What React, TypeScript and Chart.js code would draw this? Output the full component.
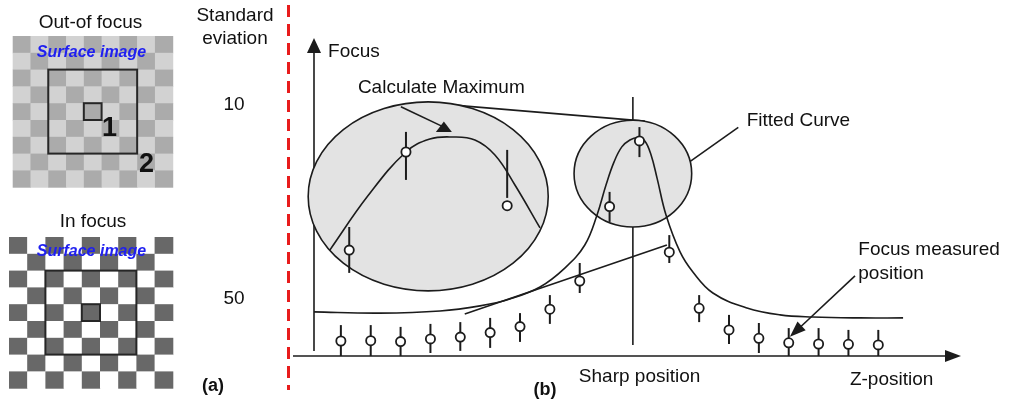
import { useEffect, useRef } from "react";
import { Chart, registerables } from "chart.js";

Chart.register(...registerables);

// Z-position index of every focus measurement
const zPositions = [0, 1, 2, 3, 4, 5, 6, 7, 8, 9, 10, 11, 12, 13, 14, 15, 16, 17, 18];
// measured focus value and its spread (upper / lower end of the bar)
const focusValues = [5.0, 5.1, 4.8, 5.7, 6.3, 7.8, 9.8, 15.6, 25.0, 49.8, 71.7, 34.6, 15.9, 8.7, 5.9, 4.4, 4.0, 3.9, 3.7];
const focusHigh = [10.3, 10.3, 9.7, 10.7, 11.3, 12.7, 14.3, 20.3, 31.0, 54.7, 76.3, 40.3, 20.3, 13.7, 11.0, 9.3, 9.3, 8.7, 8.7];
const focusLow = [0.0, 0.0, 0.0, 1.0, 1.7, 2.7, 4.7, 10.7, 21.0, 44.7, 66.3, 31.0, 11.3, 4.0, 1.0, 0.0, 0.0, 0.0, 0.0];

// fitted focus curve
const fitZ = [-0.94, 1.31, 3.32, 4.66, 5.66, 6.67, 7.5, 8.17, 8.58, 8.88, 9.15, 9.41, 9.68, 9.95, 10.18, 10.39, 10.59, 10.89, 11.36, 11.79, 12.46, 13.6, 14.71, 15.81, 17.39, 18.83];
const fitFocus = [14.7, 14.3, 15.0, 16.7, 19.0, 23.0, 29.3, 37.0, 47.0, 57.0, 64.7, 69.7, 72.0, 72.8, 71.7, 67.0, 59.3, 47.0, 34.7, 28.0, 21.0, 16.0, 13.7, 13.0, 12.7, 12.7];

// magnified view around the maximum
const zoomCurveZ = [-0.37, 0.9, 2.18, 2.98, 3.72, 4.49, 5.16, 5.83, 6.67];
const zoomCurveFocus = [35.3, 53.3, 68.0, 72.3, 73.0, 72.0, 67.0, 57.0, 42.7];
const zoomPointZ = [0.28, 2.18, 5.57];
const zoomPointFocus = [35.3, 68.0, 50.1];
const zoomPointHigh = [43.0, 74.7, 68.7];
const zoomPointLow = [27.7, 58.7, 52.7];

// standard deviation axis
const sdTicks = [10, 50];

const FONT = '"Liberation Sans", Arial, Helvetica, sans-serif';
const INK = "#1c1c1c";

function drawBoard(
  ctx: CanvasRenderingContext2D,
  x0: number,
  y0: number,
  cw: number,
  ch: number,
  dark: string,
  light: string
) {
  for (let r = 0; r < 9; r++) {
    for (let c = 0; c < 9; c++) {
      ctx.fillStyle = (r + c) % 2 === 0 ? dark : light;
      ctx.fillRect(x0 + c * cw, y0 + r * ch, cw + 0.5, ch + 0.5);
    }
  }
  ctx.strokeStyle = "#262626";
  ctx.lineWidth = 2;
  ctx.strokeRect(x0 + 2 * cw, y0 + 2 * ch, 5 * cw, 5 * ch);
  ctx.strokeRect(x0 + 4 * cw, y0 + 4 * ch, cw, ch);
}

const diagramPlugin = {
  id: "focusDiagram",
  beforeDatasetsDraw(chart: any) {
    const ctx: CanvasRenderingContext2D = chart.ctx;
    const xs = chart.scales.x;
    const ys = chart.scales.y;
    const px = (z: number) => xs.getPixelForValue(z);
    const py = (f: number) => ys.getPixelForValue(f);
    const area = chart.chartArea;

    ctx.save();
    ctx.strokeStyle = INK;
    ctx.fillStyle = INK;
    ctx.lineWidth = 1.6;

    // axes
    ctx.beginPath();
    ctx.moveTo(area.left - 21, area.bottom);
    ctx.lineTo(area.right - 14, area.bottom);
    ctx.moveTo(area.left, area.bottom - 5);
    ctx.lineTo(area.left, area.top + 14);
    ctx.stroke();
    ctx.beginPath();
    ctx.moveTo(area.right, area.bottom);
    ctx.lineTo(area.right - 16, area.bottom - 6);
    ctx.lineTo(area.right - 16, area.bottom + 6);
    ctx.closePath();
    ctx.fill();
    ctx.beginPath();
    ctx.moveTo(area.left, area.top);
    ctx.lineTo(area.left - 7, area.top + 15);
    ctx.lineTo(area.left + 7, area.top + 15);
    ctx.closePath();
    ctx.fill();

    const line = (z1: number, f1: number, z2: number, f2: number) => {
      ctx.beginPath();
      ctx.moveTo(px(z1), py(f1));
      ctx.lineTo(px(z2), py(f2));
      ctx.stroke();
    };

    // sharp position marker
    line(9.78, 86.3, 9.78, 3.7);
    // connection between the magnified view and the peak region
    line(2.98, 84.3, 10.18, 78.3);
    // tangent through the rising flank
    line(4.15, 14.0, 10.92, 37.0);
    // leader of "Fitted Curve"
    line(11.69, 64.8, 13.31, 76.2);

    // magnifier ellipses
    const ellipse = (cz: number, cf: number, rz: number, rf: number) => {
      const cx = px(cz);
      const cy = py(cf);
      const rx = px(cz + rz) - cx;
      const ry = cy - py(cf + rf);
      ctx.beginPath();
      ctx.ellipse(cx, cy, rx, ry, 0, 0, Math.PI * 2);
      ctx.fillStyle = "#e3e3e3";
      ctx.fill();
      ctx.stroke();
    };
    ellipse(2.925, 53.2, 4.02, 31.5);
    ellipse(9.78, 60.8, 1.97, 17.8);

    // spread bars
    ctx.lineWidth = 2;
    ctx.strokeStyle = INK;
    const bars = (zs: number[], lo: number[], hi: number[]) => {
      zs.forEach((z, i) => {
        ctx.beginPath();
        ctx.moveTo(px(z), py(lo[i]));
        ctx.lineTo(px(z), py(hi[i]));
        ctx.stroke();
      });
    };
    bars(zPositions, focusLow, focusHigh);
    bars(zoomPointZ, zoomPointLow, zoomPointHigh);
    ctx.restore();
  },
  afterDatasetsDraw(chart: any) {
    const ctx: CanvasRenderingContext2D = chart.ctx;
    const xs = chart.scales.x;
    const ys = chart.scales.y;
    const px = (z: number) => xs.getPixelForValue(z);
    const py = (f: number) => ys.getPixelForValue(f);

    ctx.save();
    ctx.strokeStyle = INK;
    ctx.fillStyle = INK;
    ctx.lineWidth = 1.6;

    // "Calculate Maximum" pointer
    const ax = px(3.45);
    const ay = py(76.3);
    ctx.beginPath();
    ctx.moveTo(px(2.01), py(83.1));
    ctx.lineTo(ax, ay);
    ctx.stroke();
    ctx.beginPath();
    ctx.moveTo(ax, ay - 5.5);
    ctx.lineTo(ax - 8, ay + 5);
    ctx.lineTo(ax + 8, ay + 5);
    ctx.closePath();
    ctx.fill();

    // "Focus measured position" pointer
    const sx = px(17.22);
    const sy = py(26.7);
    const tx = px(15.04);
    const ty = py(6.4);
    const ang = Math.atan2(ty - sy, tx - sx);
    ctx.beginPath();
    ctx.moveTo(sx, sy);
    ctx.lineTo(tx - Math.cos(ang) * 10, ty - Math.sin(ang) * 10);
    ctx.stroke();
    ctx.beginPath();
    ctx.moveTo(tx, ty);
    ctx.lineTo(tx - Math.cos(ang) * 16 + Math.sin(ang) * 6, ty - Math.sin(ang) * 16 - Math.cos(ang) * 6);
    ctx.lineTo(tx - Math.cos(ang) * 16 - Math.sin(ang) * 6, ty - Math.sin(ang) * 16 + Math.cos(ang) * 6);
    ctx.closePath();
    ctx.fill();

    // labels of the diagram
    ctx.fillStyle = "#111";
    ctx.font = `19px ${FONT}`;
    ctx.textAlign = "left";
    ctx.textBaseline = "alphabetic";
    ctx.fillText("Focus", px(-0.43), py(99.8));
    ctx.fillText("Calculate Maximum", px(0.57), py(87.6));
    ctx.fillText("Fitted Curve", px(13.59), py(76.7));
    ctx.fillText("Focus measured", px(17.33), py(33.7));
    ctx.fillText("position", px(17.33), py(25.7));
    ctx.fillText("Sharp position", px(7.97), 381.5);
    ctx.fillText("Z-position", px(17.05), 385);
    ctx.restore();
  },
  afterDraw(chart: any) {
    const ctx: CanvasRenderingContext2D = chart.ctx;
    const sd = chart.scales.sd;
    ctx.save();

    // panel (a): surface images
    drawBoard(ctx, 12.7, 36, 17.78, 16.8, "#ababab", "#d2d2d2");
    drawBoard(ctx, 9, 237, 18.2, 16.8, "#686868", "#ffffff");

    ctx.fillStyle = "#111";
    ctx.textBaseline = "alphabetic";
    ctx.textAlign = "center";
    ctx.font = `19px ${FONT}`;
    ctx.fillText("Out-of focus", 90.5, 28);
    ctx.fillText("In focus", 93, 227);

    ctx.fillStyle = "#1f1ff0";
    ctx.font = `italic bold 16px ${FONT}`;
    ctx.fillText("Surface image", 91.5, 56.5);
    ctx.fillText("Surface image", 91.5, 255.5);

    ctx.fillStyle = "#111";
    ctx.textAlign = "left";
    ctx.font = `bold 27px ${FONT}`;
    ctx.fillText("1", 102, 136);
    ctx.fillText("2", 139, 172);

    ctx.font = `bold 18px ${FONT}`;
    ctx.textAlign = "center";
    ctx.fillText("(a)", 213, 391);
    ctx.fillText("(b)", 545, 395);

    // standard deviation scale
    ctx.font = `19px ${FONT}`;
    ctx.fillText("Standard", 235, 21);
    ctx.fillText("eviation", 235, 44);
    ctx.textBaseline = "middle";
    sdTicks.forEach((v) => {
      ctx.fillText(String(v), 234, sd.getPixelForValue(v) + 0.5);
    });

    // separator between the panels
    ctx.strokeStyle = "#e81c1c";
    ctx.lineWidth = 3;
    ctx.setLineDash([12, 7]);
    ctx.beginPath();
    ctx.moveTo(288.5, 5);
    ctx.lineTo(288.5, 390);
    ctx.stroke();
    ctx.restore();
  },
};

export default function App() {
  const canvasRef = useRef<HTMLCanvasElement | null>(null);

  useEffect(() => {
    document.body.style.margin = "0";
    const canvas = canvasRef.current;
    if (!canvas) return;

    const pointStyle = {
      showLine: false,
      pointRadius: 4.6,
      pointBackgroundColor: "#ffffff",
      pointBorderColor: INK,
      pointBorderWidth: 1.8,
    };
    const curveStyle = {
      showLine: true,
      borderColor: INK,
      borderWidth: 1.6,
      pointRadius: 0,
      tension: 0.4,
      fill: false,
    };

    const chart = new Chart(canvas, {
      type: "scatter",
      data: {
        datasets: [
          {
            label: "Focus measured",
            data: zPositions.map((z, i) => ({ x: z, y: focusValues[i] })),
            ...pointStyle,
          },
          {
            label: "Magnified measurements",
            data: zoomPointZ.map((z, i) => ({ x: z, y: zoomPointFocus[i] })),
            ...pointStyle,
          },
          {
            label: "Fitted Curve",
            data: fitZ.map((z, i) => ({ x: z, y: fitFocus[i] })),
            ...curveStyle,
          },
          {
            label: "Calculate Maximum",
            data: zoomCurveZ.map((z, i) => ({ x: z, y: zoomCurveFocus[i] })),
            ...curveStyle,
          },
        ],
      },
      options: {
        animation: false,
        responsive: false,
        events: [],
        layout: { padding: { left: 314, right: 50, top: 38, bottom: 49 } },
        plugins: { legend: { display: false }, tooltip: { enabled: false } },
        scales: {
          x: { type: "linear", min: -0.9, max: 20.77, display: false },
          y: { type: "linear", min: 0, max: 106, display: false },
          sd: { type: "linear", position: "left", reverse: true, min: -3.75, max: 61.99, display: false },
        },
      },
      plugins: [diagramPlugin],
    });

    return () => chart.destroy();
  }, []);

  return (
    <div style={{ width: 1011, height: 405, background: "#ffffff" }}>
      <canvas ref={canvasRef} width={1011} height={405} style={{ display: "block" }} />
    </div>
  );
}
